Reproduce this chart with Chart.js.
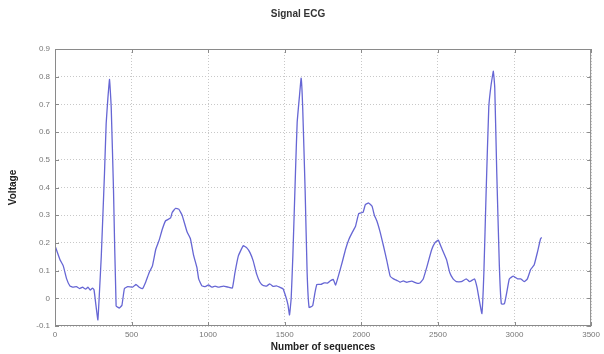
<!DOCTYPE html>
<html>
<head>
<meta charset="utf-8">
<script src="https://cdn.jsdelivr.net/npm/chart.js@4/dist/chart.umd.min.js"></script>
<style>
  html, body { margin: 0; padding: 0; background: #fff; }
  #wrap { width: 604px; height: 354px; }
</style>
</head>
<body>
<div id="wrap"><canvas id="ecg"></canvas></div>
<script>
// ECG trace (sample index / voltage)
const seqX = [0,32,54,76,97,118,140,160,180,200,215,230,245,255,265,280,290,302,323,334,345,356,367,382,399,420,437,453,475,507,528,550,572,593,615,636,658,680,701,722,755,765,787,808,830,862,884,905,927,938,959,981,1002,1024,1045,1067,1100,1132,1158,1175,1197,1229,1251,1273,1294,1316,1338,1359,1381,1402,1424,1446,1467,1489,1510,1521,1531,1542,1553,1570,1581,1596,1607,1617,1633,1646,1659,1682,1697,1710,1736,1757,1779,1800,1817,1832,1854,1875,1897,1919,1940,1962,1983,2011,2026,2048,2070,2085,2102,2124,2145,2167,2188,2210,2231,2253,2274,2296,2328,2361,2382,2404,2426,2459,2480,2502,2523,2556,2577,2599,2620,2653,2685,2707,2739,2755,2772,2787,2800,2815,2832,2847,2862,2871,2884,2901,2914,2934,2949,2966,2992,3020,3041,3063,3084,3106,3128,3149,3170,3177];
const voltage = [0.19,0.14,0.117,0.07,0.045,0.04,0.042,0.035,0.04,0.033,0.04,0.03,0.037,0.03,-0.015,-0.078,0.02,0.15,0.45,0.63,0.72,0.79,0.69,0.39,-0.028,-0.035,-0.025,0.035,0.042,0.04,0.05,0.04,0.035,0.06,0.093,0.117,0.177,0.21,0.25,0.28,0.29,0.31,0.325,0.322,0.3,0.24,0.215,0.155,0.11,0.07,0.045,0.042,0.048,0.04,0.044,0.04,0.044,0.04,0.037,0.093,0.153,0.19,0.183,0.165,0.135,0.088,0.058,0.046,0.044,0.052,0.043,0.045,0.04,0.034,0.0,-0.024,-0.06,0.0,0.155,0.455,0.635,0.73,0.795,0.69,0.39,0.093,-0.033,-0.027,0.02,0.05,0.05,0.056,0.055,0.064,0.068,0.048,0.088,0.13,0.177,0.213,0.237,0.26,0.306,0.31,0.338,0.344,0.332,0.3,0.278,0.236,0.188,0.134,0.08,0.07,0.065,0.058,0.063,0.058,0.062,0.055,0.055,0.07,0.11,0.175,0.2,0.21,0.183,0.14,0.093,0.07,0.06,0.06,0.07,0.06,0.07,0.04,-0.013,-0.055,0.093,0.39,0.69,0.77,0.82,0.76,0.455,0.117,-0.02,-0.02,0.02,0.07,0.08,0.07,0.07,0.06,0.07,0.105,0.12,0.165,0.215,0.22];

const xTicks = [0, 500, 1000, 1500, 2000, 2500, 3000, 3500];
const yTicks = [-0.1, 0, 0.1, 0.2, 0.3, 0.4, 0.5, 0.6, 0.7, 0.8, 0.9];

const points = seqX.map((x, i) => ({ x: x, y: voltage[i] }));

// matlab style box with inward tick marks
const frame = {
    id: 'frame',
    afterDraw(chart) {
        const { ctx, chartArea: a, scales } = chart;
        ctx.save();
        ctx.strokeStyle = '#8a8a8a';
        ctx.lineWidth = 1;
        ctx.strokeRect(a.left + 0.5, a.top + 0.5, a.right - a.left - 1, a.bottom - a.top - 1);
        ctx.beginPath();
        xTicks.forEach(v => {
            const px = Math.round(scales.x.getPixelForValue(v)) + 0.5;
            ctx.moveTo(px, a.bottom); ctx.lineTo(px, a.bottom - 4);
            ctx.moveTo(px, a.top); ctx.lineTo(px, a.top + 4);
        });
        yTicks.forEach(v => {
            const py = Math.round(scales.y.getPixelForValue(v)) + 0.5;
            ctx.moveTo(a.left, py); ctx.lineTo(a.left + 4, py);
            ctx.moveTo(a.right, py); ctx.lineTo(a.right - 4, py);
        });
        ctx.stroke();
        ctx.restore();
    }
};

new Chart(document.getElementById('ecg'), {
    type: 'line',
    data: {
        datasets: [{
            data: points,
            borderColor: '#6666d4',
            borderWidth: 1.3,
            pointRadius: 0,
            tension: 0.1,
            fill: false
        }]
    },
    options: {
        responsive: true,
        maintainAspectRatio: false,
        animation: false,
        layout: { padding: { left: 0, right: 8, top: 0, bottom: 0 } },
        plugins: {
            legend: { display: false },
            tooltip: { enabled: false },
            title: {
                display: true,
                text: 'Signal ECG',
                color: '#333',
                font: { family: 'Liberation Sans', size: 10, weight: 'bold' },
                padding: { top: 8, bottom: 29 }
            }
        },
        scales: {
            x: {
                type: 'linear',
                min: 0,
                max: 3500,
                afterFit: s => { s.height = 28; },
                afterBuildTicks: s => { s.ticks = xTicks.map(v => ({ value: v })); },
                ticks: {
                    color: '#777',
                    font: { family: 'Liberation Sans', size: 8 },
                    padding: 4,
                    maxRotation: 0,
                    callback: v => String(v)
                },
                grid: { color: '#c8c8c8', drawTicks: false },
                border: { display: false, dash: [1, 2] },
                title: {
                    display: true,
                    text: 'Number of sequences',
                    color: '#222',
                    font: { family: 'Liberation Sans', size: 10, weight: 'bold' },
                    padding: { top: 0, bottom: 1 }
                }
            },
            y: {
                min: -0.1,
                max: 0.9,
                afterFit: s => { s.width = 55; },
                afterBuildTicks: s => { s.ticks = yTicks.map(v => ({ value: v })); },
                ticks: {
                    color: '#777',
                    font: { family: 'Liberation Sans', size: 8 },
                    padding: 5,
                    callback: v => String(Math.round(v * 10) / 10)
                },
                grid: { color: '#c8c8c8', drawTicks: false },
                border: { display: false, dash: [1, 2] },
                title: {
                    display: true,
                    text: 'Voltage',
                    color: '#222',
                    font: { family: 'Liberation Sans', size: 10, weight: 'bold' },
                    padding: { top: 7, bottom: 0 }
                }
            }
        }
    },
    plugins: [frame]
});
</script>
</body>
</html>
